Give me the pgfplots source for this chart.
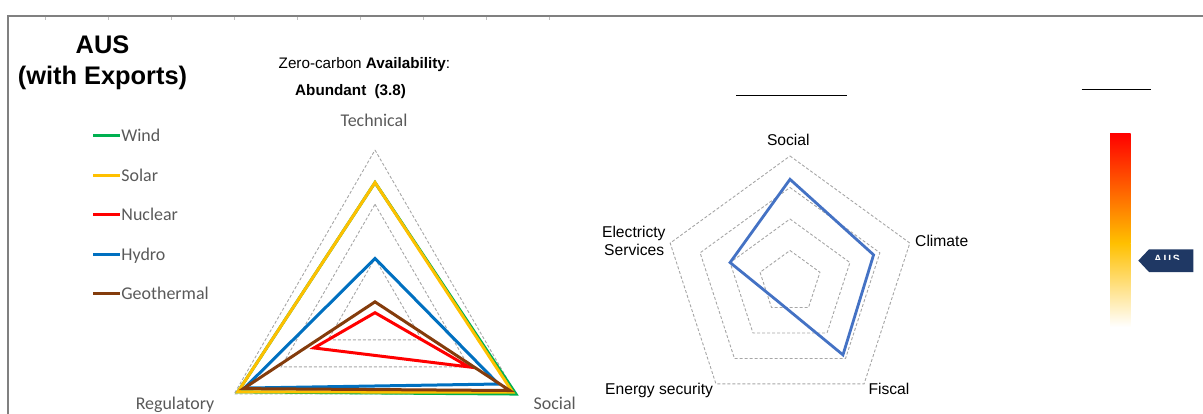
\documentclass[border=0pt]{standalone}
\usepackage{pgfplots}
\pgfplotsset{compat=1.18}
\usepgfplotslibrary{polar}
\usepackage{fontspec}
\setmainfont{Liberation Sans}
\newfontfamily\calibri{Carlito}

\definecolor{windc}{HTML}{00B050}
\definecolor{solarc}{HTML}{FFC000}
\definecolor{nuclc}{HTML}{FF0000}
\definecolor{hydroc}{HTML}{0070C0}
\definecolor{geoc}{HTML}{843C0C}
\definecolor{labgray}{HTML}{595959}
\definecolor{gridgray}{HTML}{A6A6A6}
\definecolor{framegray}{HTML}{808080}
\definecolor{tickgray}{HTML}{BFBFBF}
\definecolor{navy}{HTML}{1F3864}
\definecolor{radarblue}{HTML}{4472C4}
\definecolor{gold}{HTML}{FFC000}

\pgfplotsset{
  radargrid/.style={gridgray, line width=0.9bp, dash pattern=on 3bp off 2bp, data cs=polar, forget plot},
  radarline/.style={line width=3bp, line join=miter, data cs=polar},
}

\begin{document}
\begin{tikzpicture}
\useasboundingbox (0,0) rectangle (1203bp,-414bp);
\clip (0,0) rectangle (1203bp,-414bp);

% panel frame with its small tick marks
\draw[framegray, line width=2bp] (7.8bp,-414bp) -- (7.8bp,-15.5bp) -- (1203bp,-15.5bp);
\foreach \x in {45,108,...,550} \draw[tickgray, line width=1bp] (\x bp,-16.5bp) -- (\x bp,-19.5bp);

% titles
\node[font=\bfseries\fontsize{25.5}{30}\selectfont, anchor=base, inner sep=0] at (102.5bp,-53.3bp) {AUS};
\node[font=\bfseries\fontsize{25.5}{30}\selectfont, anchor=base, inner sep=0] at (102.5bp,-84.5bp) {(with Exports)};
\node[font=\fontsize{15.3}{18}\selectfont, anchor=base west, inner sep=0] at (278.5bp,-68.3bp) {Zero-carbon \textbf{Availability}:};
\node[font=\bfseries\fontsize{15.3}{18}\selectfont, anchor=base west, inner sep=0] at (295bp,-95bp) {Abundant\hspace{4bp} (3.8)};

% triangle radar: zero-carbon technologies
\begin{axis}[
  at={(375bp,-312.7bp)}, anchor=center,
  x=54.23bp, y=54.23bp,
  xmin=-3, xmax=3, ymin=-3, ymax=3,
  hide axis, clip=false,
  legend cell align=left,
  legend image code/.code={\draw[#1, line width=3bp] (0bp,0bp) -- (26.5bp,0bp);},
  legend style={draw=none, fill=none, inner sep=0pt, row sep=23.5bp, column sep=0bp,
    at={(-0.3706,1.0685)}, anchor=north west,
    nodes={inner sep=0pt, text height=14bp, text depth=2bp,
      font=\calibri\fontsize{18}{20}\selectfont, text=labgray}},
]
\addplot[radargrid] coordinates {(90,1) (330,1) (210,1)} -- cycle;
\addplot[radargrid] coordinates {(90,2) (330,2) (210,2)} -- cycle;
\addplot[radargrid] coordinates {(90,3) (330,3) (210,3)} -- cycle;
% (Technical, Social, Regulatory)
\addplot[radarline, windc] coordinates {(90,2.4) (330,3.0) (210,2.92)} -- cycle;
\addlegendentry{Wind}
\addplot[radarline, solarc] coordinates {(90,2.4) (330,2.93) (210,2.92)} -- cycle;
\addlegendentry{Solar}
\addplot[radarline, nuclc] coordinates {(90,0) (330,2.0) (210,1.3)} -- cycle;
\addlegendentry{Nuclear}
\addplot[radarline, hydroc] coordinates {(90,1.0) (330,2.63) (210,2.78)} -- cycle;
\addlegendentry{Hydro}
\addplot[radarline, geoc] coordinates {(90,0.2) (330,2.87) (210,2.8)} -- cycle;
\addlegendentry{Geothermal}
\end{axis}

\begin{scope}[font=\calibri\fontsize{18}{20}\selectfont, text=labgray, inner sep=0]
\node[anchor=base] at (374bp,-126.5bp) {Technical};
\node[anchor=base] at (175bp,-409bp) {Regulatory};
\node[anchor=base] at (554.7bp,-409bp) {Social};
\end{scope}

% pentagon radar: assessment dimensions
\draw[line width=1.3bp] (736bp,-95.7bp) -- (846.7bp,-95.7bp);
\begin{axis}[
  at={(790bp,-282bp)}, anchor=center,
  x=31.5bp, y=31.5bp,
  xmin=-4, xmax=4, ymin=-4, ymax=4,
  hide axis, clip=false,
]
\addplot[radargrid] coordinates {(90,1) (18,1) (-54,1) (-126,1) (162,1)} -- cycle;
\addplot[radargrid] coordinates {(90,2) (18,2) (-54,2) (-126,2) (162,2)} -- cycle;
\addplot[radargrid] coordinates {(90,3) (18,3) (-54,3) (-126,3) (162,3)} -- cycle;
\addplot[radargrid] coordinates {(90,4) (18,4) (-54,4) (-126,4) (162,4)} -- cycle;
% Social, Climate, Fiscal, Energy security, Electricty Services
\addplot[radarline, radarblue, line width=2.8bp] coordinates {(90,3.26) (18,2.79) (-54,2.86) (-126,0.72) (162,2.0)} -- cycle;
\end{axis}

\begin{scope}[font=\fontsize{15.7}{18}\selectfont, inner sep=0]
\node[anchor=base] at (788.3bp,-145bp) {Social};
\node[anchor=base west] at (915bp,-246bp) {Climate};
\node[anchor=base west] at (868.3bp,-394bp) {Fiscal};
\node[anchor=base west] at (605bp,-394bp) {Energy security};
\node[anchor=base] at (633.8bp,-237.3bp) {Electricty};
\node[anchor=base] at (634.2bp,-255bp) {Services};
\end{scope}

% availability scale
\draw[line width=1.3bp] (1081.7bp,-89.3bp) -- (1150.7bp,-89.3bp);
\shade[top color=red, bottom color=gold] (1110bp,-133bp) rectangle (1130.5bp,-243bp);
\shade[top color=gold, bottom color=white] (1110bp,-243bp) rectangle (1130.5bp,-327bp);
\fill[navy] (1138.3bp,-260.6bp) -- (1149bp,-249.3bp) -- (1193.3bp,-249.3bp) -- (1193.3bp,-272bp) -- (1149bp,-272bp) -- cycle;
\begin{scope}
\clip (1140bp,-249bp) rectangle (1193bp,-259.5bp);
\node[white, font=\bfseries\fontsize{10.5}{12}\selectfont, anchor=base west, inner sep=0] at (1154bp,-262.5bp) {A\,U\,S};
\end{scope}
\end{tikzpicture}
\end{document}
